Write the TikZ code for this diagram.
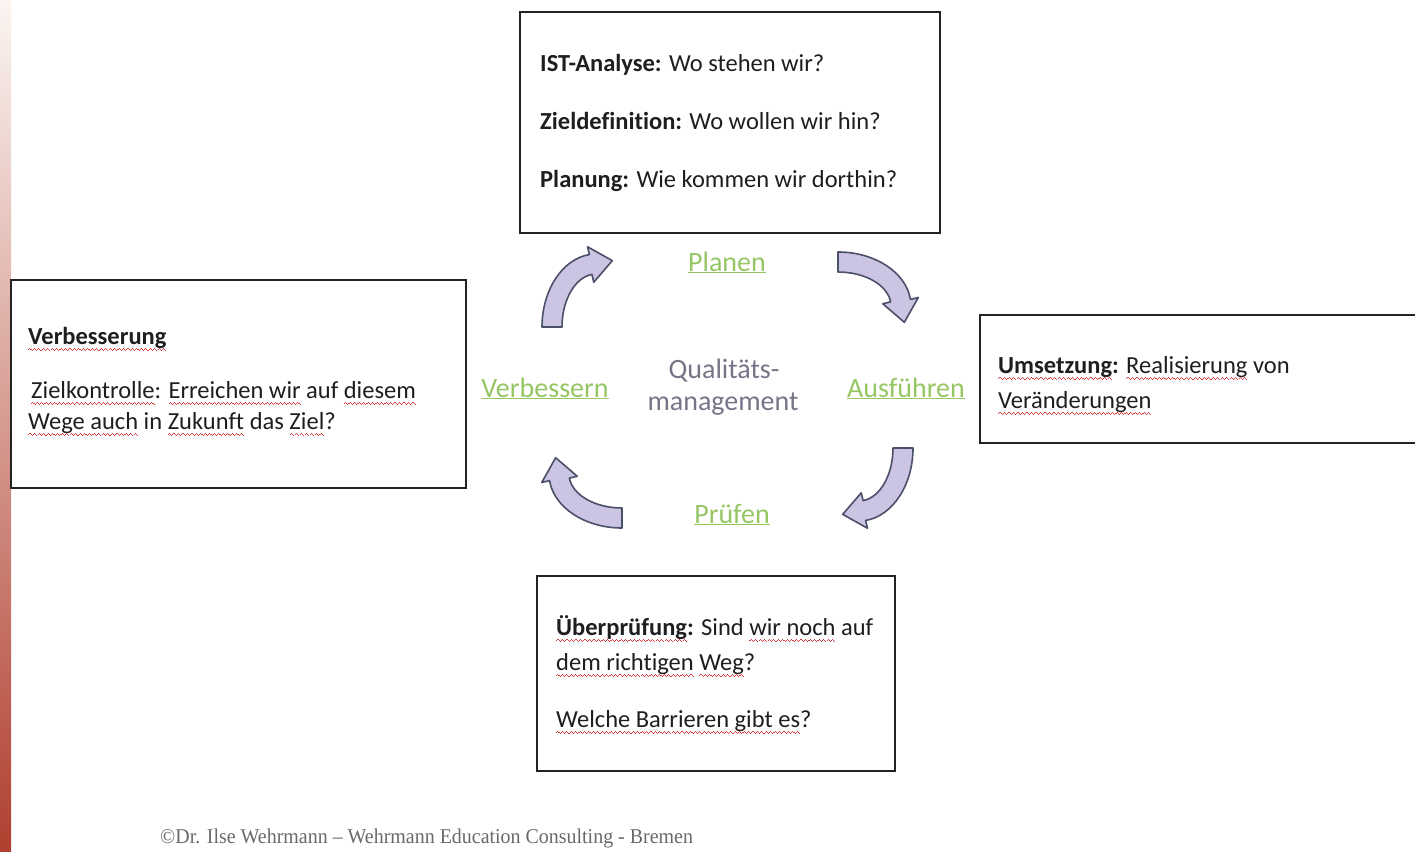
\documentclass[tikz,border=0pt]{standalone}
\usepackage{fontspec}
\setmainfont{Carlito}[Ligatures={NoCommon,TeX}]
\newfontfamily\footfont{Liberation Serif}
\usetikzlibrary{calc}
\definecolor{txt}{RGB}{30,30,30}
\definecolor{boxline}{RGB}{35,35,35}
\definecolor{wavered}{RGB}{215,60,60}
\definecolor{lgreen}{RGB}{150,198,100}
\definecolor{qmgray}{RGB}{120,115,135}
\definecolor{arrfill}{RGB}{203,196,226}
\definecolor{arrline}{RGB}{75,80,105}
\definecolor{foot}{RGB}{105,105,105}
\definecolor{gtop}{RGB}{251,245,242}
\definecolor{gmid}{RGB}{232,200,185}
\definecolor{gbot}{RGB}{176,64,48}
\newsavebox\wvbox
\newcommand\wvpiece{\rule[-5.6pt]{1.1pt}{0.9pt}\rule[-4.7pt]{1.1pt}{0.9pt}\rule[-5.6pt]{1.1pt}{0.9pt}\rule[-6.5pt]{1.1pt}{0.9pt}}
\newcommand\sq[1]{\leavevmode\sbox\wvbox{#1}\rlap{\usebox\wvbox}\hbox to \wd\wvbox{\color{wavered}\xleaders\hbox{\wvpiece}\hfill}}
\tikzset{
  boxst/.style={draw=boxline, line width=1.6pt, inner sep=0pt},
  line/.style={anchor=base west, inner sep=0pt, text=txt, font=\fontsize{24.5}{30}\selectfont},
  phase/.style={anchor=base, inner sep=0pt, text=lgreen, font=\fontsize{28}{34}\selectfont},
  centre/.style={anchor=base, inner sep=0pt, text=qmgray, font=\fontsize{28}{34}\selectfont},
  arrowst/.style={fill=arrfill, draw=arrline, line width=1.6pt, line join=round},
}
\newcommand\cyclarrow[2]{%
  \begin{scope}[#1]
    \filldraw[arrowst] (-10,0) arc[start angle=180, end angle=263, x radius=54, y radius=73]
      -- (35.52,-80.26) -- (60.31,-66.34) -- (41.76,-44.80) -- (39.86,-52.60)
      arc[start angle=263, end angle=180, x radius=34, y radius=53] -- cycle;
    \coordinate (#2) at (0,0);
  \end{scope}}
\begin{document}
\begin{tikzpicture}[x=1pt, y=-1pt]
  \useasboundingbox (0,0) rectangle (1415,851);
  \clip (0,0) rectangle (1415,851);
  \fill[white] (0,0) rectangle (1415,851);
  \shade[top color=gtop, middle color=gmid, bottom color=gbot] (0,0) rectangle (11,851);

  % boxes
  \node[boxst, minimum width=420pt, minimum height=221pt] (topbox) at (730,122.5) {};
  \node[boxst, minimum width=455pt, minimum height=208pt] (leftbox) at (238.5,384) {};
  \node[boxst, minimum width=460pt, minimum height=128pt] (rightbox) at (1210,379) {};
  \node[boxst, minimum width=358pt, minimum height=195pt] (botbox) at (716,673.5) {};

  % top box text
  \node[line] (t1) at (540,71) {\textbf{IST-Analyse:} Wo stehen wir?};
  \node[line] (t2) at (540,129) {\textbf{Zieldefinition:} Wo wollen wir hin?};
  \node[line] (t3) at (540,187) {\textbf{Planung:} Wie kommen wir dorthin?};

  % left box text
  \node[line] (l1) at (28,344) {\textbf{\sq{Verbesserung}}};
  \node[line] (l2) at (31,398) {\sq{Zielkontrolle}: \sq{Erreichen wir} auf \sq{diesem}};
  \node[line] (l3) at (28,429) {\sq{Wege auch} in \sq{Zukunft} das \sq{Ziel}?};

  % right box text
  \node[line] (r1) at (998,373) {\textbf{\sq{Umsetzung}:} \sq{Realisierung} von};
  \node[line] (r2) at (998,408) {\sq{Veränderungen}};

  % bottom box text
  \node[line] (b1) at (556,635) {\textbf{\sq{Überprüfung}:} Sind \sq{wir noch} auf};
  \node[line] (b2) at (556,670) {\sq{dem richtigen} \sq{Weg}?};
  \node[line] (b3) at (556,727) {\sq{Welche Barrieren gibt es}?};

  % cycle labels
  \node[phase] (planen) at (727,271) {\underline{Planen}};
  \node[phase] (ausf) at (906,397) {\underline{Ausführen}};
  \node[phase] (pruef) at (732,523) {\underline{Prüfen}};
  \node[phase] (verb) at (545,397) {\underline{Verbessern}};
  \node[centre] (qm1) at (724,378) {Qualitäts-};
  \node[centre] (qm2) at (723,410) {management};

  % curved arrows
  \cyclarrow{shift={(552,327)}}{a1}
  \cyclarrow{shift={(838,262)}, rotate=-90}{a2}
  \cyclarrow{shift={(903,448)}, rotate=180}{a3}
  \cyclarrow{shift={(622,518)}, rotate=90}{a4}

  % footer
  \node[anchor=base west, inner sep=0pt, text=foot, font=\footfont\fontsize{21}{24}\selectfont] (foot) at (160,843)
    {\scalebox{0.95}[1]{©Dr. Ilse Wehrmann – Wehrmann Education Consulting - Bremen}};
\end{tikzpicture}
\end{document}
